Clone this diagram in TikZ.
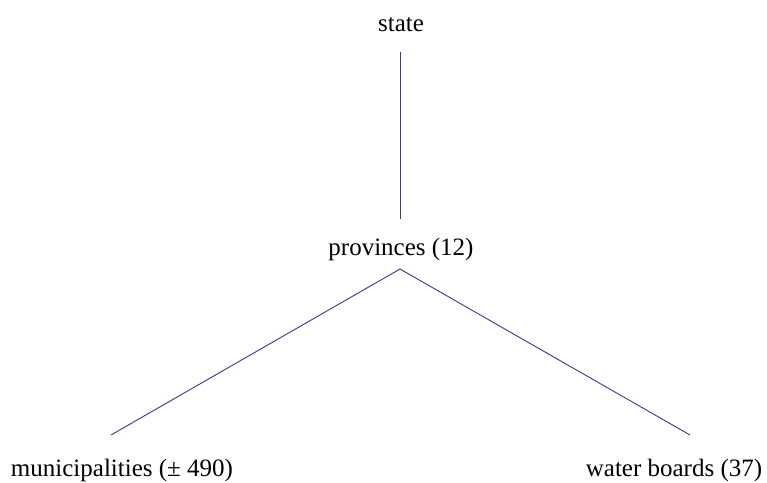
\documentclass[tikz,border=0pt]{standalone}
\usepackage{fontspec}
\setmainfont{Liberation Serif}
\definecolor{linkblue}{RGB}{50,58,145}
\begin{document}
\begin{tikzpicture}[x=1pt,y=-1pt,
  lbl/.style={inner sep=0pt,anchor=base,font=\fontsize{25}{28}\selectfont},
  link/.style={draw=linkblue,line width=0.9pt}]
\useasboundingbox (0,0) rectangle (767,482);
\node[lbl] (state) at (401,31) {state};
\node[lbl] (prov) at (401,255) {provinces (12)};
\node[lbl] (mun) at (122,476) {municipalities (± 490)};
\node[lbl] (wb) at (674,476) {water boards (37)};
\coordinate (s1) at (400,52);
\coordinate (s2) at (400,219);
\coordinate (apex) at (400,269);
\coordinate (m1) at (111,435);
\coordinate (w1) at (690,435);
\draw[link] (s1) -- (s2);
\draw[link] (m1) -- (apex) -- (w1);
\end{tikzpicture}
\end{document}
